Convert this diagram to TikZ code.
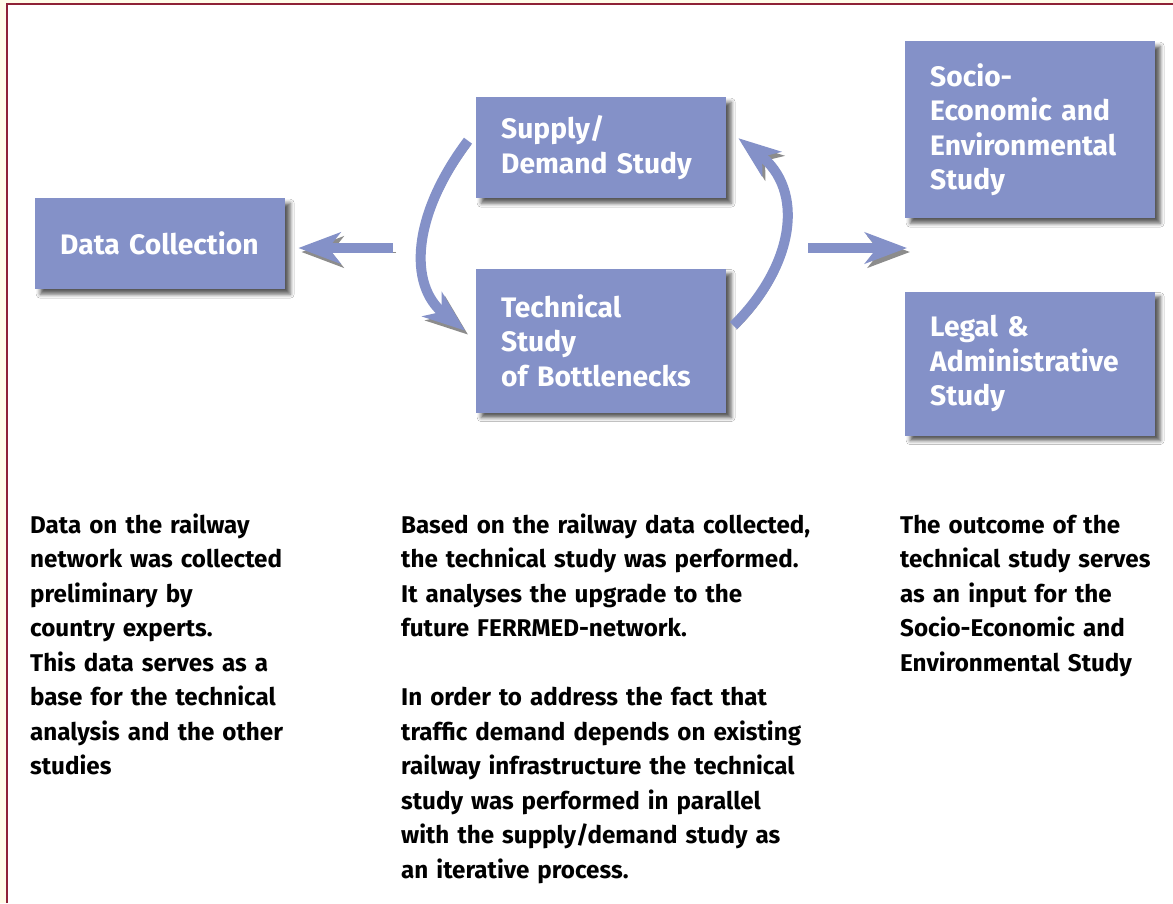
\documentclass[tikz,border=0pt]{standalone}
\usepackage{fontspec}
\setmainfont{Fira Sans}
\usetikzlibrary{positioning,arrows.meta,shadows.blur,calc}

\definecolor{boxblue}{RGB}{132,145,200}
\definecolor{framered}{RGB}{142,34,54}
\definecolor{cream}{RGB}{255,252,232}

\begin{document}
\begin{tikzpicture}[x=1pt,y=-1pt,
		bnode/.style={fill=boxblue,text=white,font=\fontsize{28.2}{34.5}\selectfont\bfseries,
			align=left,text width=200pt,inner xsep=25pt,inner ysep=0pt,anchor=north west,
			blur shadow={shadow xshift=5pt,shadow yshift=-5pt,shadow blur radius=4pt,shadow opacity=65}},
		tnode/.style={font=\fontsize{24.2}{34.5}\selectfont\bfseries,align=left,
			text width=440pt,inner sep=0pt,anchor=base west},
		flow/.style={draw=boxblue,line width=10pt,-{Stealth[length=42pt,width=31pt,inset=12pt]},
			preaction={draw=black!45,transform canvas={xshift=3pt,yshift=-4pt}}}]
		\useasboundingbox (0,0) rectangle (1173,903);
		% frame
		\fill[cream] (0,0) rectangle (1173,903);
		\fill[white] (7,4) rectangle (1173,903);
		\draw[framered,line width=2pt] (7,903) -- (7,4) -- (1173,4);

		% boxes
		\node[bnode,minimum height=91pt] (data) at (35,198) {Data Collection};
		\node[bnode,minimum height=101pt] (supply) at (476,97) {Supply/\\Demand Study};
		\node[bnode,minimum height=144pt] (tech) [below=70pt of supply.south west,anchor=north west] {Technical\\Study\\of Bottlenecks};
		\node[bnode,minimum height=177pt] (socio) at (905,41) {Socio-\\Economic and\\Environmental\\Study};
		\node[bnode,minimum height=144pt] (legal) [below=73pt of socio.south west,anchor=north west] {Legal \&\\Administrative\\Study};

		% arrows
		\coordinate (lefttail) at (393,248);
		\coordinate (righttail) at (808,248);
		\draw[flow,shorten >=13pt] (lefttail) -- (lefttail -| data.east);
		\draw[flow,shorten >=-2pt] (righttail) -- (righttail -| socio.west);
		\draw[flow] ($(supply.west)+(-8,-7)$) .. controls (412,215) and (408,285) .. ($(tech.west)+(-11,-10)$);
		\draw[flow] ($(tech.east)+(7,-15)$) .. controls (795,265) and (805,190) .. ($(supply.east)+(12,-9.5)$);

		% texts
		\node[tnode] (datatxt) at (30,533) {Data on the railway\\network was collected\\preliminary by\\country experts.\\This data serves as a\\base for the technical\\analysis and the other\\studies};
		\node[tnode] (studytxt) at (401,533) {Based on the railway data collected,\\the technical study was performed.\\It analyses the upgrade to the\\future FERRMED-network.\\[34.5pt]In order to address the fact that\\traffic demand depends on existing\\railway infrastructure the technical\\study was performed in parallel\\with the supply/demand study as\\an iterative process.};
		\node[tnode,text width=260pt] (outtxt) at (900,533) {The outcome of the\\technical study serves\\as an input for the\\Socio-Economic and\\Environmental Study};
	\end{tikzpicture}
\end{document}
